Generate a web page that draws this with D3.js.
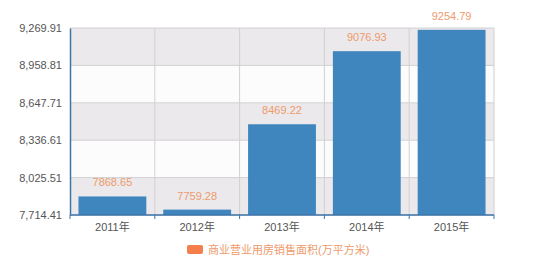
<!DOCTYPE html>
<html>
<head>
<meta charset="utf-8">
<script src="https://cdn.jsdelivr.net/npm/d3@7"></script>
<style>
  body { margin: 0; background: #fff; }
  text { font-family: "Liberation Sans", Arial, "Noto Sans CJK SC", sans-serif; }
</style>
</head>
<body>
<svg id="chart" width="550" height="275"></svg>
<script>
// chart data
const years = ['2011年', '2012年', '2013年', '2014年', '2015年'];
const areaValues = [7868.65, 7759.28, 8469.22, 9076.93, 9254.79];
const yTicks = [7714.41, 8025.51, 8336.61, 8647.71, 8958.81, 9269.91];
const seriesName = '商业营业用房销售面积(万平方米)';

const margin = { top: 28, right: 56, bottom: 60, left: 70 };
const width = 550 - margin.left - margin.right;
const height = 275 - margin.top - margin.bottom;

const svg = d3.select('#chart');
const g = svg.append('g')
    .attr('transform', 'translate(' + margin.left + ',' + margin.top + ')');

const xScale = d3.scaleBand()
    .domain(years)
    .range([0, width])
    .paddingInner(0.2)
    .paddingOuter(0.1);

const yScale = d3.scaleLinear()
    .domain([yTicks[0], yTicks[yTicks.length - 1]])
    .range([height, 0]);

// alternating background bands
for (let i = 0; i < yTicks.length - 1; i++) {
    const y0 = yScale(yTicks[i + 1]), y1 = yScale(yTicks[i]);
    g.append('rect')
        .attr('x', 0).attr('y', y0)
        .attr('width', width).attr('height', y1 - y0)
        .attr('fill', (yTicks.length - 2 - i) % 2 === 0 ? '#ebe9eb' : '#fdfcfd');
}

// horizontal gridlines
g.selectAll('.hgrid')
    .data(yTicks)
    .enter()
    .append('line')
    .attr('x1', 0).attr('x2', width)
    .attr('y1', d => yScale(d)).attr('y2', d => yScale(d))
    .attr('stroke', '#d2d0d2');

// vertical gridlines at category boundaries
const bounds = d3.range(years.length + 1).map(i => i * width / years.length);
g.selectAll('.vgrid')
    .data(bounds.slice(1))
    .enter()
    .append('line')
    .attr('x1', d => d).attr('x2', d => d)
    .attr('y1', 0).attr('y2', height)
    .attr('stroke', '#d2d0d2');

// bars
g.selectAll('.bar')
    .data(areaValues)
    .enter()
    .append('rect')
    .attr('class', 'bar')
    .attr('x', (d, i) => bounds[i] + (width / years.length - xScale.bandwidth()) / 2)
    .attr('y', d => yScale(d))
    .attr('width', xScale.bandwidth())
    .attr('height', d => height - yScale(d))
    .attr('fill', '#3f86bf');

// value labels
g.selectAll('.vlabel')
    .data(areaValues)
    .enter()
    .append('text')
    .attr('x', (d, i) => bounds[i] + width / years.length / 2)
    .attr('y', d => yScale(d) - 10)
    .attr('text-anchor', 'middle')
    .attr('font-size', 11)
    .attr('fill', '#ee9a6c')
    .text(d => d.toFixed(2));

// y axis
const yAxis = d3.axisLeft(yScale)
    .tickValues(yTicks)
    .tickSize(0)
    .tickPadding(8)
    .tickFormat(d3.format(',.2f'));
const yg = g.append('g').call(yAxis);
yg.select('.domain').attr('stroke', '#3d74a8').attr('stroke-width', 1.5);
yg.selectAll('text').attr('font-size', 11).attr('fill', '#555')
    .style('font-family', '"Liberation Sans", Arial, sans-serif');

// x axis
const xg = g.append('g').attr('transform', 'translate(0,' + height + ')');
xg.append('line')
    .attr('x1', 0).attr('x2', width)
    .attr('stroke', '#3d74a8').attr('stroke-width', 1.5);
xg.selectAll('.tick')
    .data(bounds)
    .enter()
    .append('line')
    .attr('x1', d => d).attr('x2', d => d)
    .attr('y1', 0).attr('y2', 4)
    .attr('stroke', '#3d74a8');
xg.selectAll('.xlabel')
    .data(years)
    .enter()
    .append('text')
    .attr('x', (d, i) => bounds[i] + width / years.length / 2)
    .attr('y', 16)
    .attr('text-anchor', 'middle')
    .attr('font-size', 11)
    .attr('fill', '#555')
    .text(d => d);

// legend
const legend = svg.append('g').attr('transform', 'translate(187,245)');
legend.append('rect')
    .attr('width', 16).attr('height', 9)
    .attr('rx', 2)
    .attr('fill', '#f47e4c');
legend.append('text')
    .attr('x', 21).attr('y', 8.5)
    .attr('font-size', 11)
    .attr('fill', '#ee9a6c')
    .text(seriesName);
</script>
</body>
</html>
